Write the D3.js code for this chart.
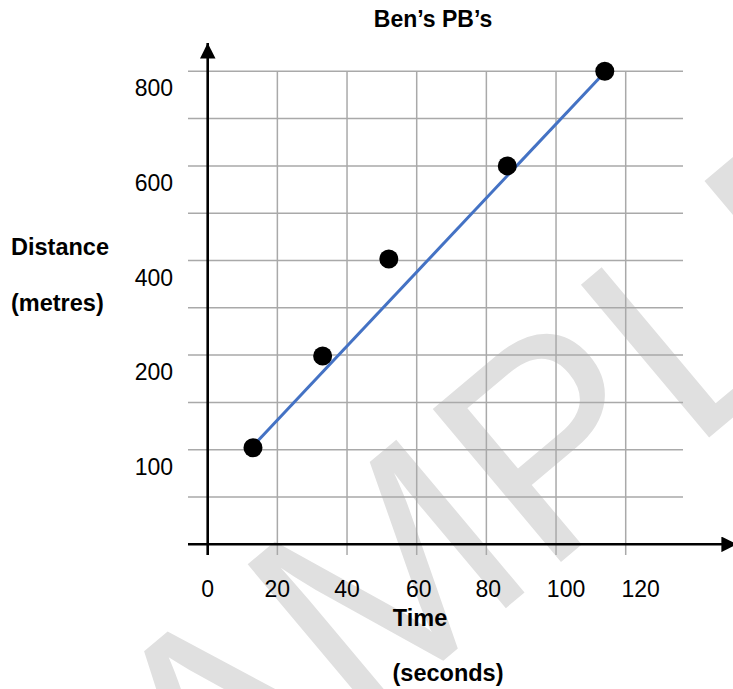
<!DOCTYPE html>
<html>
<head>
<meta charset="utf-8">
<script src="https://cdn.jsdelivr.net/npm/d3@7"></script>
<style>
  html, body { margin: 0; padding: 0; background: #fff; }
  svg { display: block; font-family: "Liberation Sans", Arial, sans-serif; }
</style>
</head>
<body>
<svg id="chart" width="733" height="689"></svg>
<script>
// ---- data ----
const title = "Ben’s PB’s";
const xLabel = "Time";
const xUnits = "(seconds)";
const yLabel = "Distance";
const yUnits = "(metres)";
const timeValues = [13, 33, 52, 86, 114];        // seconds
const distanceValues = [102, 199, 403, 600, 800]; // metres
const trendTime = [13, 114];
const trendDistance = [104, 798];
const xTickLabels = [0, 20, 40, 60, 80, 100, 120];
const yTickLabels = [100, 200, 400, 600, 800];
const yGridIndex = [0, 2, 4, 6, 8, 10];          // grid row of 0,100,200,400,600,800
const watermark = "SAMPLE";

// ---- layout ----
const svg = d3.select("#chart");
const gridRow = d3.scaleLinear().domain([0, 10]).range([544.3, 71.3]);
const x = d3.scaleLinear().domain([0, 120]).range([207.7, 625.7]);
const y = d3.scaleLinear().domain([0].concat(yTickLabels)).range(yGridIndex.map(gridRow));

const gridColor = "#a9a9a9";

// watermark
svg.append("text")
  .attr("transform", "translate(512,603) rotate(-40)")
  .attr("text-anchor", "middle")
  .attr("font-size", 290)
  .attr("fill", "#e0e0e0")
  .text(watermark);

// horizontal grid lines
svg.append("g").selectAll("line")
  .data(d3.range(1, 11))
  .join("line")
  .attr("x1", 188).attr("x2", 683)
  .attr("y1", d => gridRow(d)).attr("y2", d => gridRow(d))
  .attr("stroke", gridColor).attr("stroke-width", 1.5);

// vertical grid lines
svg.append("g").selectAll("line")
  .data(xTickLabels.slice(1))
  .join("line")
  .attr("x1", d => x(d)).attr("x2", d => x(d))
  .attr("y1", gridRow(10)).attr("y2", 555)
  .attr("stroke", gridColor).attr("stroke-width", 1.5);

// axes with arrows
const defs = svg.append("defs");
defs.append("marker")
  .attr("id", "arrow").attr("viewBox", "0 0 10 10")
  .attr("refX", 10).attr("refY", 5)
  .attr("markerWidth", 6).attr("markerHeight", 6)
  .attr("markerUnits", "strokeWidth")
  .attr("orient", "auto")
  .append("path").attr("d", "M0,0 L10,5 L0,10 Z").attr("fill", "#000");

svg.append("line")
  .attr("x1", x(0)).attr("x2", x(0))
  .attr("y1", 555).attr("y2", 43)
  .attr("stroke", "#000").attr("stroke-width", 2.6)
  .attr("marker-end", "url(#arrow)");
svg.append("line")
  .attr("x1", 188).attr("x2", 737)
  .attr("y1", gridRow(0)).attr("y2", gridRow(0))
  .attr("stroke", "#000").attr("stroke-width", 2.6)
  .attr("marker-end", "url(#arrow)");

// trend line
svg.append("path")
  .datum(d3.zip(trendTime, trendDistance))
  .attr("d", d3.line().x(d => x(d[0])).y(d => y(d[1])))
  .attr("fill", "none").attr("stroke", "#4472C4").attr("stroke-width", 3);

// points
svg.append("g").selectAll("circle")
  .data(d3.zip(timeValues, distanceValues))
  .join("circle")
  .attr("cx", d => x(d[0])).attr("cy", d => y(d[1]))
  .attr("r", 9.5).attr("fill", "#000");

// tick labels
const xNudge = d => (d >= 120 ? 15 : d >= 100 ? 10 : d >= 60 ? 2 : 0);
svg.append("g").selectAll("text")
  .data(xTickLabels)
  .join("text")
  .attr("x", d => x(d) + xNudge(d)).attr("y", 597)
  .attr("text-anchor", "middle")
  .attr("font-size", 23)
  .text(d => d);

svg.append("g").selectAll("text")
  .data(yTickLabels)
  .join("text")
  .attr("x", 173).attr("y", d => y(d) + 25)
  .attr("text-anchor", "end")
  .attr("font-size", 23)
  .text(d => d);

// titles
svg.append("text").attr("x", 433).attr("y", 27.3)
  .attr("text-anchor", "middle").attr("font-size", 23).attr("font-weight", "bold")
  .text(title);
svg.append("text").attr("x", 11).attr("y", 255)
  .attr("font-size", 23.5).attr("font-weight", "bold").text(yLabel);
svg.append("text").attr("x", 11).attr("y", 311)
  .attr("font-size", 23.5).attr("font-weight", "bold").text(yUnits);
svg.append("text").attr("x", 420).attr("y", 625.7)
  .attr("text-anchor", "middle").attr("font-size", 23.5).attr("font-weight", "bold").text(xLabel);
svg.append("text").attr("x", 448).attr("y", 680.5)
  .attr("text-anchor", "middle").attr("font-size", 23.5).attr("font-weight", "bold").text(xUnits);
</script>
</body>
</html>
